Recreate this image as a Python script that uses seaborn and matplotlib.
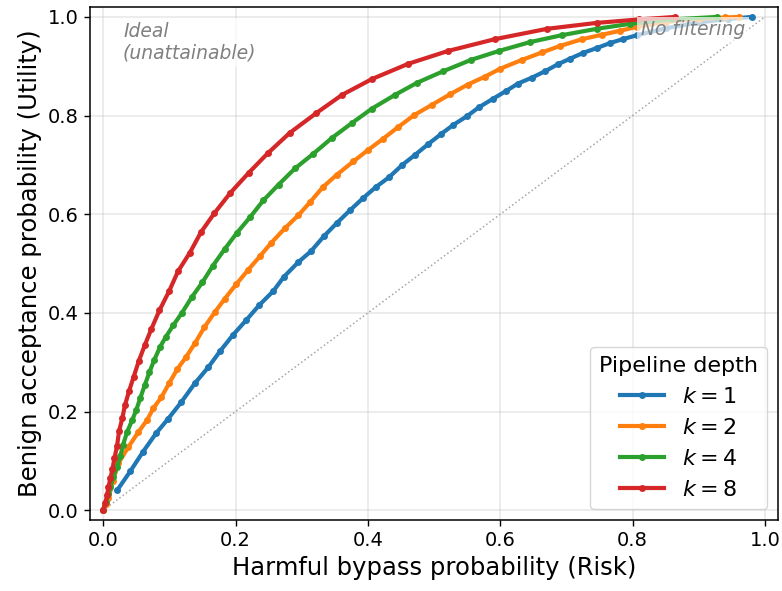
import matplotlib
matplotlib.use("Agg")
import matplotlib.pyplot as plt
import seaborn as sns
import pandas as pd

# ---- data ----
k1_x = [0.021, 0.041, 0.060, 0.080, 0.098, 0.118, 0.139, 0.159, 0.177, 0.196, 0.216, 0.236, 0.257,
        0.273, 0.295, 0.314, 0.334, 0.353, 0.373, 0.393, 0.412, 0.432, 0.452, 0.471, 0.491, 0.511,
        0.529, 0.550, 0.568, 0.589, 0.609, 0.627, 0.648, 0.668, 0.687, 0.705, 0.725, 0.746, 0.766,
        0.785, 0.807, 0.850, 0.900, 0.945, 0.980]
k1_y = [0.040, 0.079, 0.118, 0.156, 0.185, 0.219, 0.258, 0.290, 0.323, 0.355, 0.385, 0.416, 0.444,
        0.473, 0.503, 0.525, 0.556, 0.582, 0.608, 0.633, 0.655, 0.675, 0.700, 0.720, 0.742, 0.763,
        0.781, 0.799, 0.817, 0.834, 0.850, 0.865, 0.877, 0.890, 0.904, 0.915, 0.927, 0.937, 0.947,
        0.955, 0.963, 0.977, 0.989, 0.996, 1.000]

k2_x = [0.000, 0.004, 0.008, 0.015, 0.023, 0.038, 0.053, 0.066, 0.076, 0.088, 0.100, 0.112, 0.125,
        0.139, 0.153, 0.169, 0.184, 0.201, 0.219, 0.237, 0.254, 0.275, 0.295, 0.313, 0.332, 0.353,
        0.378, 0.400, 0.423, 0.446, 0.470, 0.497, 0.524, 0.551, 0.577, 0.600, 0.633, 0.663, 0.690,
        0.724, 0.754, 0.781, 0.807, 0.850, 0.900, 0.940, 0.961]
k2_y = [0.000, 0.012, 0.024, 0.060, 0.095, 0.128, 0.158, 0.182, 0.207, 0.229, 0.258, 0.286, 0.310,
        0.339, 0.371, 0.402, 0.429, 0.458, 0.487, 0.515, 0.542, 0.572, 0.598, 0.625, 0.655, 0.680,
        0.707, 0.730, 0.753, 0.777, 0.801, 0.822, 0.843, 0.863, 0.879, 0.895, 0.913, 0.928, 0.941,
        0.955, 0.964, 0.972, 0.980, 0.990, 0.996, 0.999, 1.000]

k4_x = [0.000, 0.004, 0.008, 0.011, 0.015, 0.021, 0.026, 0.030, 0.036, 0.044, 0.050, 0.056, 0.063,
        0.070, 0.077, 0.086, 0.095, 0.106, 0.119, 0.134, 0.150, 0.166, 0.184, 0.202, 0.222, 0.242,
        0.265, 0.290, 0.317, 0.346, 0.376, 0.406, 0.441, 0.475, 0.514, 0.556, 0.598, 0.645, 0.693,
        0.746, 0.796, 0.860, 0.927]
k4_y = [0.000, 0.016, 0.032, 0.047, 0.067, 0.087, 0.110, 0.132, 0.158, 0.183, 0.203, 0.227, 0.254,
        0.280, 0.304, 0.331, 0.352, 0.375, 0.400, 0.432, 0.462, 0.496, 0.530, 0.562, 0.594, 0.628,
        0.660, 0.693, 0.722, 0.755, 0.785, 0.814, 0.842, 0.867, 0.890, 0.913, 0.931, 0.949, 0.963,
        0.976, 0.986, 0.995, 1.000]

k8_x = [0.000, 0.003, 0.006, 0.008, 0.011, 0.014, 0.017, 0.021, 0.024, 0.029, 0.033, 0.039, 0.046,
        0.054, 0.063, 0.073, 0.085, 0.100, 0.113, 0.131, 0.148, 0.168, 0.192, 0.220, 0.249,
        0.282, 0.322, 0.361, 0.406, 0.461, 0.521, 0.592, 0.671, 0.746, 0.810, 0.864]
k8_y = [0.000, 0.014, 0.030, 0.047, 0.065, 0.083, 0.105, 0.130, 0.160, 0.187, 0.213, 0.241, 0.270,
        0.303, 0.335, 0.368, 0.405, 0.445, 0.484, 0.522, 0.564, 0.602, 0.643, 0.684, 0.724,
        0.765, 0.805, 0.842, 0.874, 0.905, 0.931, 0.955, 0.976, 0.988, 0.995, 1.000]

labels = ["$k=1$", "$k=2$", "$k=4$", "$k=8$"]
colors = ["#1f77b4", "#ff7f0e", "#2ca02c", "#d62728"]

frames = []
for lab, xs, ys in zip(labels, [k1_x, k2_x, k4_x, k8_x], [k1_y, k2_y, k4_y, k8_y]):
    frames.append(pd.DataFrame({"risk": xs, "utility": ys, "k": lab}))
df = pd.concat(frames, ignore_index=True)

plt.rcParams["font.family"] = ["DejaVu Sans"]
fig, ax = plt.subplots(figsize=(7.82, 5.91), dpi=100)
fig.subplots_adjust(left=0.115, right=0.995, top=0.988, bottom=0.120)

ax.plot([0, 1], [0, 1], linestyle=":", color="gray", linewidth=1.1, alpha=0.7, zorder=1)

sns.lineplot(data=df, x="risk", y="utility", hue="k", hue_order=labels, palette=colors,
             sort=False, estimator=None, units="k", marker="o", markersize=5,
             markeredgewidth=0, linewidth=3, ax=ax, zorder=2)

ax.set_xlim(-0.02, 1.02)
ax.set_ylim(-0.02, 1.02)
ax.grid(True, alpha=0.3, linewidth=1.1)
ax.tick_params(labelsize=14, length=4.5, width=1)
for s in ax.spines.values():
    s.set_linewidth(1.1)
ax.set_xlabel("Harmful bypass probability (Risk)", fontsize=17.5)
ax.set_ylabel("Benign acceptance probability (Utility)", fontsize=17.5)

ax.text(0.03, 0.99, "Ideal\n(unattainable)", ha="left", va="top", fontsize=13.5,
        style="italic", color="gray",
        bbox=dict(boxstyle="square,pad=0.2", facecolor="white", edgecolor="none", alpha=0.7),
        zorder=5)
ax.text(0.97, 0.993, "No filtering", ha="right", va="top", fontsize=13.5,
        style="italic", color="gray",
        bbox=dict(boxstyle="square,pad=0.2", facecolor="white", edgecolor="none", alpha=0.7),
        zorder=5)

leg = ax.legend(title="Pipeline depth", loc="lower right", fontsize=16, title_fontsize=16)

fig.savefig("out.png", dpi=100)
